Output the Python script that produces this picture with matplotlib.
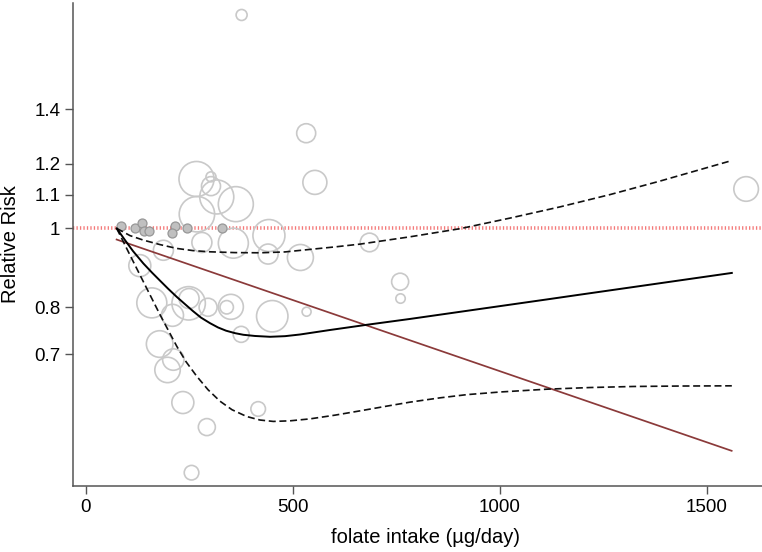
import matplotlib
matplotlib.use("Agg")
import matplotlib.pyplot as plt
from matplotlib.ticker import FixedLocator, FixedFormatter, NullLocator

plt.rcParams['font.family'] = ['Liberation Sans', 'DejaVu Sans']

# ---- study estimates (open bubbles): intake, relative risk, marker diameter (weight)
study_x = [376, 532, 553, 267, 302, 302, 316, 362, 268, 442, 356, 280, 187, 440,
           518, 685, 130, 759, 760, 159, 249, 248, 209, 295, 350, 340, 450, 533,
           375, 178, 211, 197, 234, 416, 292, 255, 1595]
study_rr = [1.829, 1.309, 1.139, 1.150, 1.157, 1.127, 1.093, 1.071, 1.041, 0.980,
            0.959, 0.961, 0.940, 0.930, 0.921, 0.961, 0.900, 0.860, 0.820, 0.810,
            0.820, 0.809, 0.782, 0.800, 0.801, 0.800, 0.780, 0.790, 0.741, 0.721,
            0.690, 0.670, 0.611, 0.600, 0.570, 0.501, 1.118]
study_weight = [5.5, 9.5, 12, 17.5, 5, 9.5, 17, 17.5, 17.7, 16, 15, 10, 10, 10,
                13, 9.3, 11, 8.5, 4.7, 15, 10, 16.7, 11, 9, 12.5, 6.7, 15.7, 4.5,
                8, 13.3, 10.7, 12.7, 11, 7.3, 8.5, 7.3, 12.3]

# ---- reference-category points (filled dots)
ref_x = [85, 118, 135, 139, 152, 215, 209, 245, 329]
ref_rr = [1.008, 1.000, 1.015, 0.994, 0.993, 1.0065, 0.988, 1.000, 1.000]

# ---- dose-response curve (non-linear) and 95% CI
curve_x = [74.2, 94.2, 113.6, 138.5, 159.5, 178.8, 198.2, 219.2, 239.2, 258.6,
           277.9, 299.7, 319.0, 338.4, 360.1, 380.2, 408.4, 444.7, 480.9, 517.2,
           589.7, 678.3, 782.8, 928.0, 1113.3, 1193.8, 1363.0, 1560.4]
curve_rr = [1.000, 0.9674, 0.9378, 0.9057, 0.8824, 0.8626, 0.8433, 0.8239, 0.8071,
            0.7913, 0.7769, 0.7648, 0.7556, 0.7487, 0.7435, 0.7401, 0.7376, 0.7359,
            0.7372, 0.7407, 0.7502, 0.7613, 0.7740, 0.7930, 0.8179, 0.8291, 0.8529,
            0.8816]

upper_x = [74.2, 106.3, 138.5, 178.8, 219.2, 258.6, 299.7, 360.1, 420.5, 480.9,
           541.3, 601.8, 662.2, 783.0, 903.8, 1024.6, 1145.5, 1266.3, 1387.1, 1560.4]
upper_rr = [1.000, 0.9798, 0.9674, 0.9552, 0.9449, 0.9391, 0.9359, 0.9338, 0.9333,
            0.9356, 0.9423, 0.9490, 0.9565, 0.9765, 0.9992, 1.0296, 1.0628, 1.1004,
            1.1433, 1.2116]

lower_x = [74.2, 106.3, 138.5, 178.8, 219.2, 241.7, 267.5, 294.8, 323.8, 352.8,
           388.3, 420.5, 452.6, 493.0, 541.3, 601.8, 662.2, 722.6, 783.0, 855.5,
           920.0, 1000.5, 1113.3, 1218.0, 1322.6, 1435.5, 1560.4]
lower_rr = [1.000, 0.9272, 0.8602, 0.7834, 0.7166, 0.6858, 0.6582, 0.6336, 0.6133,
            0.5987, 0.5873, 0.5815, 0.5792, 0.5802, 0.5834, 0.5896, 0.5968, 0.6043,
            0.6117, 0.6192, 0.6248, 0.6295, 0.6345, 0.6375, 0.6394, 0.6402, 0.6406]

# ---- linear trend
linear_x = [74, 1560]
linear_rr = [0.969, 0.533]

ytick_vals = [0.7, 0.8, 1, 1.1, 1.2, 1.4]
ytick_labels = ['0.7', '0.8', '1', '1.1', '1.2', '1.4']
xtick_vals = [0, 500, 1000, 1500]

fig = plt.figure(figsize=(7.62, 5.52), dpi=100)
ax = fig.add_axes([73/762, 66/552, 705/762, 483/552])

ax.set_yscale('log')
ax.set_xlim(-31.4, 1672)
ax.set_ylim(0.4825, 1.892)

# reference line at RR = 1
ax.axhline(1, color='#f47a7a', lw=2.6, dashes=(0.36, 0.6), zorder=1)

sizes = [(1.44 * w) ** 2 for w in study_weight]
ax.scatter(study_x, study_rr, s=sizes, facecolors='none', edgecolors='#c9c9c9',
           linewidths=1.2, zorder=2)
ax.scatter(ref_x, ref_rr, s=(1.44 * 4.5) ** 2, facecolors='#c0c0c0',
           edgecolors='#979797', linewidths=0.9, zorder=3)

ax.plot(linear_x, linear_rr, color='#8b3a3a', lw=1.25, zorder=4)
ax.plot(upper_x, upper_rr, color='#111111', lw=1.2, dashes=(4.2, 2.2), zorder=5)
ax.plot(lower_x, lower_rr, color='#111111', lw=1.2, dashes=(4.2, 2.2), zorder=5)
ax.plot(curve_x, curve_rr, color='black', lw=1.4, zorder=6)

ax.yaxis.set_major_locator(FixedLocator(ytick_vals))
ax.yaxis.set_major_formatter(FixedFormatter(ytick_labels))
ax.yaxis.set_minor_locator(NullLocator())
ax.xaxis.set_major_locator(FixedLocator(xtick_vals))

for s in ['top', 'right']:
    ax.spines[s].set_visible(False)
for s in ['left', 'bottom']:
    ax.spines[s].set_color('#555555')
    ax.spines[s].set_linewidth(1.1)

ax.tick_params(axis='both', which='major', length=5.8, width=1.0, color='#555555',
               labelsize=13.5, labelcolor='black', pad=3.3)

ax.set_ylabel('Relative Risk', fontsize=14.5, labelpad=10)
ax.set_xlabel('folate intake (\u00b5g/day)', fontsize=14.5, labelpad=9)

fig.savefig('out.png', dpi=100)
